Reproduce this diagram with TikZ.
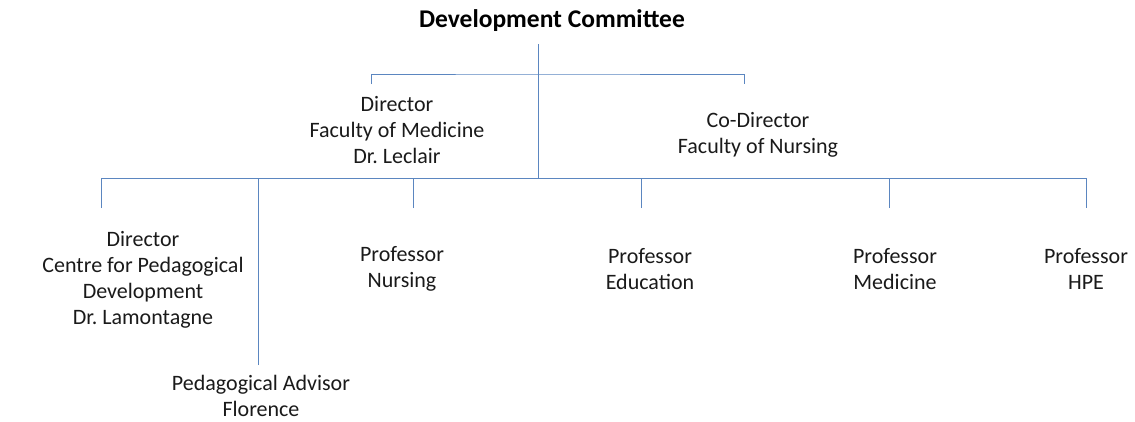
\documentclass[tikz,border=0pt]{standalone}
\usepackage{fontspec}
\setmainfont{Carlito}
\frenchspacing
\definecolor{linec}{HTML}{5B86C0}
\definecolor{textc}{HTML}{1A1A1A}
\begin{document}
\begin{tikzpicture}[x=1pt,y=-1pt,
  lbl/.style={align=center,inner sep=0pt,text=textc,font=\fontsize{22}{26}\selectfont},
  ttl/.style={inner sep=0pt,text=black,font=\fontsize{25.5}{30}\selectfont\bfseries},
  conn/.style={draw=linec,line width=1pt}]
\useasboundingbox (0,0) rectangle (1135,421);
% texts
\node[ttl] (title) at (552,21) {Development Committee};
\node[lbl] (dirmed) at (397,130) {Director\\Faculty of Medicine\\Dr. Leclair};
\node[lbl] (codir) at (758,135) {Co-Director\\Faculty of Nursing};
\node[lbl] (dircpd) at (143,280) {Director\\Centre for Pedagogical\\Development\\Dr. Lamontagne};
\node[lbl] (pnur) at (402,269) {Professor\\Nursing};
\node[lbl] (pedu) at (650,269) {Professor\\Education};
\node[lbl] (pmed) at (895,269) {Professor\\Medicine};
\node[lbl] (phpe) at (1086,269) {Professor\\HPE};
\node[lbl] (padv) at (261,396) {Pedagogical Advisor\\Florence};
% junction coordinates
\coordinate (top) at (538,44);
\coordinate (busA) at (538,74);
\coordinate (busB) at (538,178);
\coordinate (tA1) at (371,84);
\coordinate (tA2) at (744,84);
\coordinate (tB1) at (101,208);
\coordinate (tB2) at (258,365);
\coordinate (tB3) at (413,208);
\coordinate (tB4) at (641,208);
\coordinate (tB5) at (889,208);
\coordinate (tB6) at (1086,208);
% connectors
\draw[conn] (top) -- (busB);
\draw[conn] (tA1) |- (busA) -| (tA2);
\draw[conn] (tB1) |- (busB) -| (tB6);
\draw[conn] (tB2) |- (busB);
\draw[conn] (tB3) |- (busB);
\draw[conn] (tB4) |- (busB);
\draw[conn] (tB5) |- (busB);
\end{tikzpicture}
\end{document}
